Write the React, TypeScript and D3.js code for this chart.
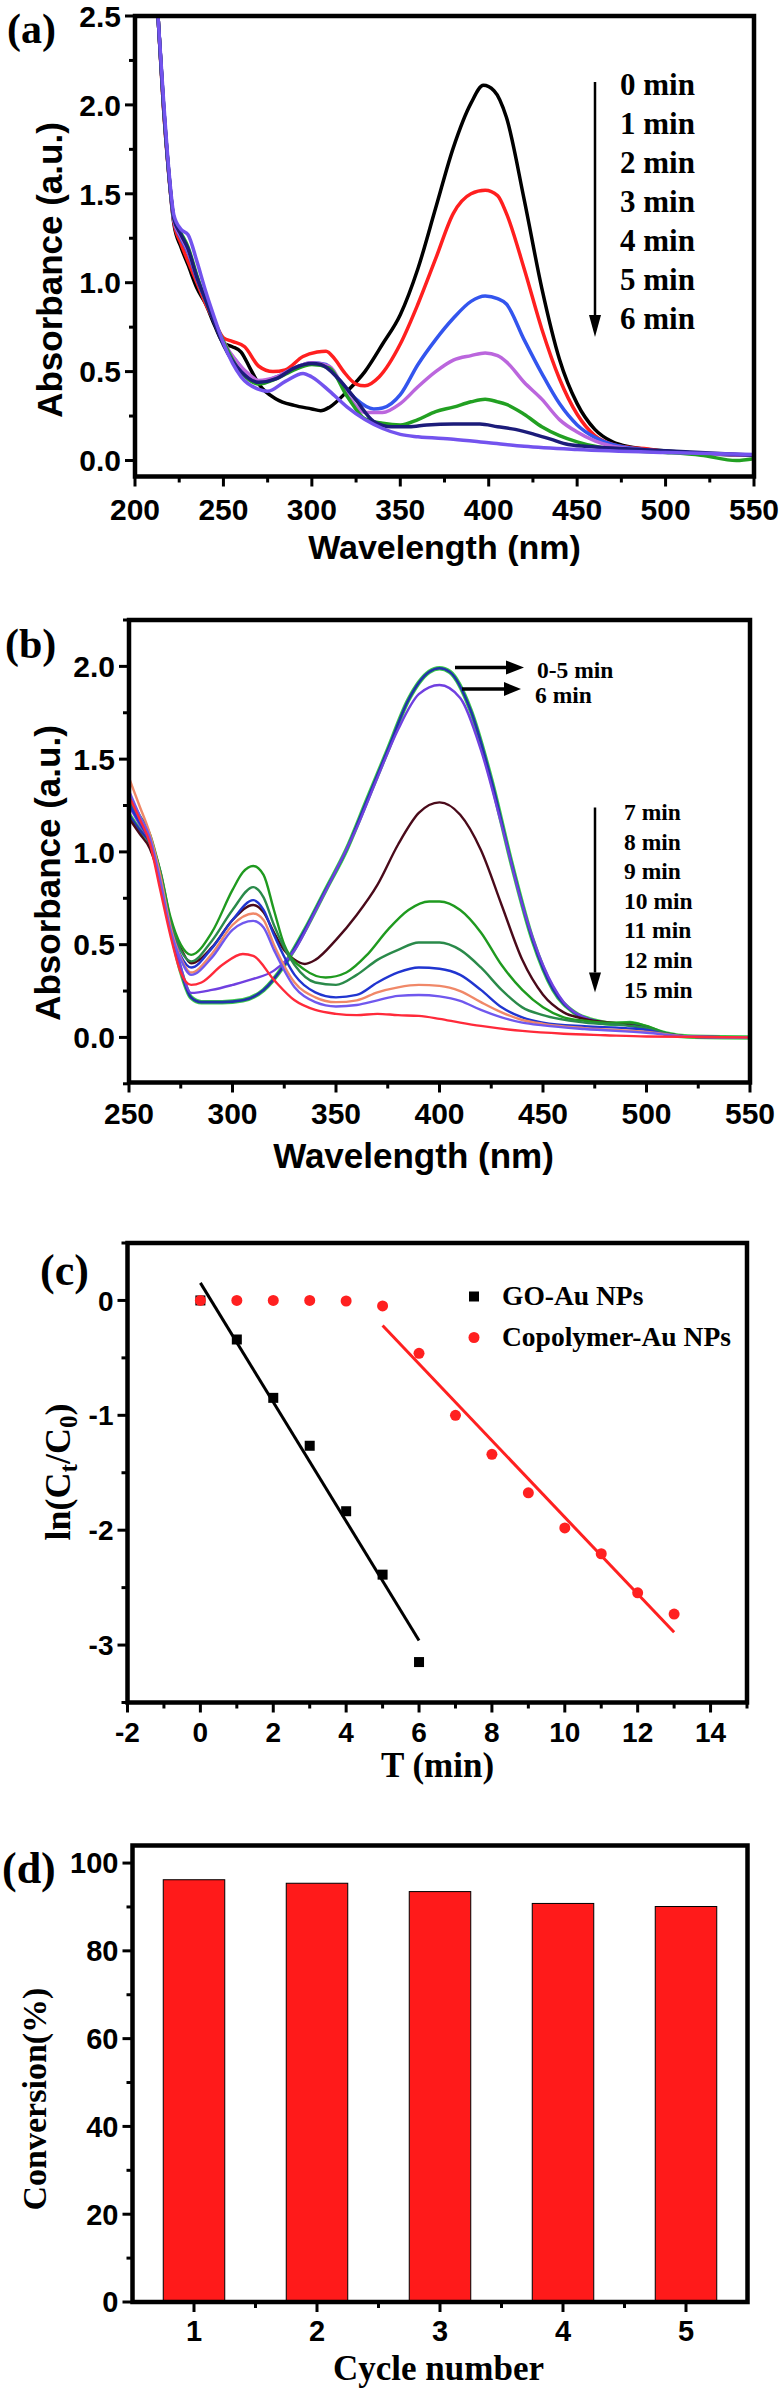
import React from 'react';
import * as d3 from 'd3';

type P = [number, number];

const SANS = "'Liberation Sans', Arial, Helvetica, sans-serif";
const SERIF = "'Liberation Serif', 'Times New Roman', Times, serif";

// ---------- panel (a): UV-vis spectra, 0-6 min ----------
const aLabels = ['0 min', '1 min', '2 min', '3 min', '4 min', '5 min', '6 min'];
const aColors = ['#000000', '#ff1f1f', '#3355ee', '#bb66dd', '#22a022', '#1c1c7a', '#7353ee'];
const a0: P[] = [[213,2.5],[216,2.0],[219,1.62],[222,1.33],[226,1.2],[230,1.1],[235,0.97],[240,0.88],[245,0.76],[250,0.66],[255,0.64],[260,0.61],[265,0.52],[270,0.43],[280,0.345],[290,0.31],[300,0.29],[305,0.28],[310,0.3],[320,0.39],[330,0.5],[340,0.655],[350,0.82],[360,1.08],[370,1.42],[380,1.76],[390,2.01],[397,2.11],[403,2.08],[410,1.93],[420,1.47],[430,0.97],[440,0.57],[450,0.32],[460,0.175],[470,0.105],[480,0.076],[490,0.062],[500,0.054],[520,0.04],[550,0.028]];
const a1: P[] = [[213,2.5],[216,2.0],[219,1.62],[222,1.34],[226,1.22],[230,1.12],[235,1.0],[240,0.88],[245,0.78],[250,0.69],[255,0.67],[262,0.64],[270,0.53],[278,0.5],[285,0.51],[295,0.585],[303,0.61],[308,0.615],[313,0.57],[318,0.5],[325,0.43],[330,0.42],[338,0.47],[350,0.655],[360,0.88],[370,1.135],[380,1.39],[390,1.5],[398,1.52],[405,1.49],[410,1.39],[420,1.08],[430,0.74],[440,0.46],[450,0.26],[460,0.14],[470,0.09],[480,0.073],[490,0.065],[500,0.05],[520,0.04],[550,0.03]];
const a2: P[] = [[213,2.5],[216,2.02],[219,1.63],[222,1.35],[226,1.25],[230,1.17],[235,1.02],[240,0.9],[245,0.78],[250,0.66],[258,0.55],[265,0.47],[270,0.44],[280,0.47],[290,0.52],[300,0.55],[308,0.54],[315,0.46],[325,0.345],[335,0.29],[340,0.295],[350,0.37],[360,0.54],[370,0.68],[380,0.8],[390,0.895],[398,0.925],[405,0.91],[410,0.88],[420,0.68],[430,0.49],[440,0.32],[450,0.2],[460,0.13],[470,0.09],[500,0.05],[550,0.03]];
const a3: P[] = [[213,2.5],[216,2.02],[219,1.63],[222,1.35],[226,1.26],[230,1.18],[235,1.03],[240,0.9],[245,0.78],[250,0.67],[258,0.55],[265,0.48],[270,0.45],[280,0.47],[290,0.52],[300,0.55],[310,0.53],[320,0.37],[330,0.27],[340,0.27],[350,0.32],[360,0.415],[370,0.5],[380,0.565],[390,0.59],[398,0.605],[405,0.59],[410,0.555],[420,0.44],[430,0.345],[440,0.23],[450,0.16],[460,0.11],[470,0.08],[500,0.05],[550,0.03]];
const a4: P[] = [[213,2.5],[216,2.02],[219,1.63],[222,1.36],[226,1.28],[230,1.2],[235,1.04],[240,0.9],[245,0.78],[250,0.67],[258,0.52],[265,0.45],[270,0.43],[280,0.46],[290,0.51],[300,0.54],[310,0.52],[320,0.36],[330,0.235],[340,0.21],[350,0.2],[360,0.23],[370,0.275],[380,0.3],[390,0.33],[398,0.345],[405,0.33],[410,0.315],[420,0.26],[430,0.19],[440,0.14],[450,0.105],[460,0.08],[480,0.055],[500,0.045],[520,0.03],[540,0.0],[550,0.01]];
const a5: P[] = [[213,2.5],[216,2.02],[219,1.63],[222,1.36],[226,1.27],[230,1.19],[235,1.03],[240,0.9],[245,0.77],[250,0.65],[260,0.5],[270,0.44],[280,0.46],[290,0.52],[300,0.545],[305,0.54],[315,0.46],[325,0.34],[335,0.22],[345,0.19],[355,0.19],[365,0.2],[380,0.205],[395,0.205],[405,0.19],[415,0.175],[425,0.15],[435,0.12],[445,0.09],[460,0.076],[480,0.065],[500,0.055],[550,0.03]];
const a6: P[] = [[213,2.5],[216,2.05],[219,1.65],[222,1.38],[226,1.3],[230,1.27],[235,1.12],[240,0.95],[245,0.8],[250,0.66],[260,0.47],[270,0.4],[275,0.39],[285,0.445],[295,0.49],[300,0.47],[310,0.39],[320,0.3],[330,0.23],[340,0.18],[350,0.147],[360,0.133],[380,0.12],[400,0.1],[420,0.08],[450,0.062],[500,0.045],[550,0.034]];
const aCurves = [a0, a1, a2, a3, a4, a5, a6];

// ---------- panel (b): UV-vis spectra, 0-15 min ----------
const bLabelsTop = ['0-5 min', '6 min'];
const bLabelsDown = ['7 min', '8 min', '9 min', '10 min', '11 min', '12 min', '15 min'];
const b05: P[] = [[250,1.2],[255,1.12],[260,1.05],[265,0.88],[270,0.6],[275,0.36],[280,0.215],[285,0.19],[295,0.19],[305,0.2],[315,0.255],[325,0.39],[335,0.58],[345,0.795],[355,1.01],[365,1.28],[375,1.55],[385,1.82],[395,1.97],[400,1.99],[405,1.97],[415,1.765],[425,1.39],[435,0.93],[445,0.525],[455,0.256],[465,0.135],[475,0.09],[485,0.073],[492,0.078],[500,0.054],[510,0.02],[520,0.005],[550,0.0]];
const b6: P[] = [[250,1.25],[255,1.15],[260,1.06],[265,0.9],[270,0.62],[275,0.38],[280,0.24],[290,0.256],[300,0.283],[310,0.315],[320,0.36],[330,0.47],[340,0.68],[350,0.9],[360,1.13],[370,1.4],[380,1.66],[390,1.85],[400,1.9],[410,1.83],[420,1.55],[430,1.145],[440,0.714],[450,0.39],[460,0.19],[470,0.108],[480,0.08],[490,0.067],[500,0.048],[510,0.02],[520,0.005],[550,0.0]];
const b7: P[] = [[250,1.18],[255,1.1],[260,1.02],[265,0.85],[270,0.6],[275,0.48],[280,0.4],[290,0.485],[300,0.633],[310,0.714],[315,0.674],[320,0.566],[325,0.47],[330,0.418],[335,0.396],[340,0.418],[350,0.526],[360,0.66],[370,0.822],[380,1.04],[390,1.21],[400,1.267],[410,1.2],[420,1.01],[430,0.714],[440,0.418],[450,0.23],[460,0.135],[470,0.1],[490,0.07],[500,0.05],[510,0.02],[520,0.005],[550,0.0]];
const b8: P[] = [[250,1.3],[255,1.2],[260,1.1],[265,0.9],[270,0.65],[275,0.5],[280,0.445],[290,0.566],[300,0.795],[305,0.89],[310,0.924],[315,0.876],[320,0.687],[325,0.5],[335,0.364],[345,0.323],[355,0.35],[365,0.445],[375,0.58],[385,0.687],[395,0.733],[400,0.733],[410,0.687],[420,0.566],[430,0.39],[440,0.256],[450,0.162],[460,0.108],[470,0.09],[480,0.08],[492,0.08],[500,0.062],[510,0.02],[520,0.005],[550,0.0]];
const b9: P[] = [[250,1.28],[255,1.18],[260,1.08],[265,0.88],[270,0.62],[275,0.47],[280,0.41],[290,0.52],[300,0.687],[310,0.81],[315,0.755],[320,0.606],[330,0.39],[340,0.296],[350,0.283],[360,0.337],[370,0.418],[380,0.472],[390,0.512],[400,0.512],[410,0.472],[420,0.377],[430,0.256],[440,0.162],[450,0.12],[470,0.08],[490,0.065],[500,0.05],[510,0.02],[520,0.005],[550,0.0]];
const b10: P[] = [[250,1.26],[255,1.16],[260,1.06],[265,0.86],[270,0.6],[275,0.44],[280,0.377],[290,0.48],[300,0.633],[310,0.74],[315,0.687],[320,0.553],[330,0.337],[340,0.243],[350,0.216],[360,0.229],[370,0.296],[380,0.35],[390,0.377],[400,0.37],[410,0.337],[420,0.256],[430,0.162],[440,0.108],[450,0.08],[470,0.06],[490,0.05],[500,0.04],[510,0.015],[520,0.005],[550,0.0]];
const b11: P[] = [[250,1.4],[255,1.25],[260,1.1],[265,0.88],[270,0.6],[275,0.43],[280,0.35],[290,0.45],[300,0.606],[310,0.668],[315,0.633],[320,0.5],[330,0.296],[340,0.216],[350,0.19],[360,0.2],[370,0.243],[380,0.27],[390,0.283],[400,0.278],[410,0.25],[420,0.19],[430,0.135],[440,0.094],[450,0.073],[470,0.05],[500,0.03],[520,0.005],[550,0.0]];
const b12: P[] = [[250,1.33],[255,1.2],[260,1.08],[265,0.85],[270,0.58],[275,0.42],[280,0.337],[290,0.43],[300,0.58],[310,0.628],[315,0.593],[320,0.472],[330,0.27],[340,0.19],[350,0.167],[360,0.175],[370,0.2],[380,0.224],[390,0.229],[400,0.221],[410,0.197],[420,0.148],[430,0.108],[440,0.08],[450,0.065],[470,0.045],[500,0.025],[520,0.005],[550,0.0]];
const b15: P[] = [[250,1.3],[255,1.18],[260,1.05],[265,0.8],[270,0.55],[275,0.35],[280,0.283],[285,0.296],[295,0.39],[305,0.45],[310,0.44],[320,0.31],[330,0.2],[340,0.148],[350,0.127],[360,0.12],[370,0.127],[380,0.12],[390,0.116],[400,0.1],[410,0.08],[420,0.062],[440,0.035],[460,0.02],[480,0.012],[500,0.005],[550,0.0]];
const bCurves = [b6, b7, b8, b9, b10, b11, b12, b15];
const bColors = ['#7040e0', '#4a0a1a', '#1f9a1f', '#2a8a4a', '#2035d0', '#f08868', '#7058ee', '#ff2a3a'];

// ---------- panel (c): kinetics ----------
const cTimeGO = [0, 1, 2, 3, 4, 5, 6];
const cGO = [0, -0.34, -0.848, -1.265, -1.835, -2.387, -3.148];
const cTimeCo = [0, 1, 2, 3, 4, 5, 6, 7, 8, 9, 10, 11, 12, 13];
const cCo = [0, 0, 0, 0, -0.005, -0.048, -0.46, -1.0, -1.34, -1.675, -1.98, -2.205, -2.545, -2.73];
const cLegend = ['GO-Au NPs', 'Copolymer-Au NPs'];

// ---------- panel (d): recycling ----------
const dCycles = ['1', '2', '3', '4', '5'];
const dConversion = [96.2, 95.4, 93.5, 90.8, 90.1];

type Box = { l: number; r: number; t: number; b: number };

function fit(xs: number[], ys: number[]) {
  const mx = d3.mean(xs)!, my = d3.mean(ys)!;
  const sxy = d3.sum(xs, (x, i) => (x - mx) * (ys[i] - my));
  const sxx = d3.sum(xs, x => (x - mx) ** 2);
  const k = sxy / sxx;
  return { k, b: my - k * mx };
}

function Frame({ box, xt, xm, yt, ym, fs, xOff }: {
  box: Box; xt: { p: number; s: string }[]; xm: number[]; yt: { p: number; s: string }[]; ym: number[]; fs: number; xOff: number;
}) {
  return (
    <g>
      {yt.map(t => <line key={'y' + t.s} x1={box.l - 10} x2={box.l} y1={t.p} y2={t.p} stroke="#000" strokeWidth={3} />)}
      {ym.map(p => <line key={'ym' + p} x1={box.l - 6} x2={box.l} y1={p} y2={p} stroke="#000" strokeWidth={3} />)}
      {xt.map(t => <line key={'x' + t.s} x1={t.p} x2={t.p} y1={box.b} y2={box.b + 10} stroke="#000" strokeWidth={3} />)}
      {xm.map(p => <line key={'xm' + p} x1={p} x2={p} y1={box.b} y2={box.b + 6} stroke="#000" strokeWidth={3} />)}
      <rect x={box.l} y={box.t} width={box.r - box.l} height={box.b - box.t} fill="none" stroke="#000" strokeWidth={4.5} />
      {yt.map(t => (
        <text key={'yl' + t.s} x={box.l - 14} y={t.p} dy="0.36em" textAnchor="end" fontFamily={SANS} fontWeight="bold" fontSize={fs}>{t.s}</text>
      ))}
      {xt.map(t => (
        <text key={'xl' + t.s} x={t.p} y={box.b + xOff} textAnchor="middle" fontFamily={SANS} fontWeight="bold" fontSize={fs}>{t.s}</text>
      ))}
    </g>
  );
}

function Arrow({ x1, y1, x2, y2, w, head, hw }: { x1: number; y1: number; x2: number; y2: number; w: number; head: number; hw: number }) {
  const a = Math.atan2(y2 - y1, x2 - x1);
  const bx = x2 - head * Math.cos(a), by = y2 - head * Math.sin(a);
  const nx = -Math.sin(a) * hw, ny = Math.cos(a) * hw;
  return (
    <g>
      <line x1={x1} y1={y1} x2={bx} y2={by} stroke="#000" strokeWidth={w} />
      <polygon points={`${x2},${y2} ${bx + nx},${by + ny} ${bx - nx},${by - ny}`} fill="#000" />
    </g>
  );
}

function PanelA() {
  const box: Box = { l: 135, r: 754, t: 16, b: 476.5 };
  const x = d3.scaleLinear().domain([200, 550]).range([box.l, box.r]);
  const y = d3.scaleLinear().domain([-0.09, 2.5]).range([box.b, box.t]);
  const line = d3.line<P>().x(d => x(d[0])).y(d => y(d[1])).curve(d3.curveMonotoneX);
  const xt = d3.range(200, 551, 50).map(v => ({ p: x(v), s: String(v) }));
  const xm = d3.range(225, 550, 50).map(v => x(v));
  const yt = d3.range(0, 2.51, 0.5).map(v => ({ p: y(v), s: v.toFixed(1) }));
  const ym = d3.range(0.25, 2.5, 0.5).map(v => y(v));
  return (
    <g>
      <clipPath id="clipA"><rect x={box.l} y={box.t} width={box.r - box.l} height={box.b - box.t} /></clipPath>
      <g clipPath="url(#clipA)">
        {aCurves.map((c, i) => <path key={i} d={line(c)!} fill="none" stroke={aColors[i]} strokeWidth={3.5} strokeLinejoin="round" />)}
      </g>
      <Frame box={box} xt={xt} xm={xm} yt={yt} ym={ym} fs={30} xOff={43} />
      <text x={(box.l + box.r) / 2} y={559} textAnchor="middle" fontFamily={SANS} fontWeight="bold" fontSize={34}>Wavelength (nm)</text>
      <text transform="translate(62,270) rotate(-90)" textAnchor="middle" fontFamily={SANS} fontWeight="bold" fontSize={35}>Absorbance (a.u.)</text>
      <text x={7} y={43} fontFamily={SERIF} fontWeight="bold" fontSize={42}>(a)</text>
      <Arrow x1={595} y1={82} x2={595} y2={337} w={2.5} head={22} hw={6} />
      {aLabels.map((s, i) => (
        <text key={s} x={620} y={95 + i * 39} fontFamily={SERIF} fontWeight="bold" fontSize={31}>{s}</text>
      ))}
    </g>
  );
}

function PanelB() {
  const box: Box = { l: 129, r: 750, t: 620, b: 1082.5 };
  const x = d3.scaleLinear().domain([250, 550]).range([box.l, box.r]);
  const y = d3.scaleLinear().domain([-0.243, 2.25]).range([box.b, box.t]);
  const line = d3.line<P>().x(d => x(d[0])).y(d => y(d[1])).curve(d3.curveMonotoneX);
  const xt = d3.range(250, 551, 50).map(v => ({ p: x(v), s: String(v) }));
  const xm = d3.range(275, 550, 50).map(v => x(v));
  const yt = d3.range(0, 2.01, 0.5).map(v => ({ p: y(v), s: v.toFixed(1) }));
  const ym = [-0.25, 0.25, 0.75, 1.25, 1.75, 2.25].map(v => y(v));
  return (
    <g>
      <clipPath id="clipB"><rect x={box.l} y={box.t} width={box.r - box.l} height={box.b - box.t} /></clipPath>
      <g clipPath="url(#clipB)">
        <path d={line(b05)!} fill="none" stroke="#3ccc4a" strokeWidth={4.5} />
        <path d={line(b05)!} fill="none" stroke="#2233aa" strokeWidth={2.6} />
        {bCurves.map((c, i) => <path key={i} d={line(c)!} fill="none" stroke={bColors[i]} strokeWidth={2.4} strokeLinejoin="round" />)}
      </g>
      <Frame box={box} xt={xt} xm={xm} yt={yt} ym={ym} fs={30} xOff={41} />
      <text x={413.5} y={1168} textAnchor="middle" fontFamily={SANS} fontWeight="bold" fontSize={35}>Wavelength (nm)</text>
      <text transform="translate(60,873) rotate(-90)" textAnchor="middle" fontFamily={SANS} fontWeight="bold" fontSize={35}>Absorbance (a.u.)</text>
      <text x={5} y={658} fontFamily={SERIF} fontWeight="bold" fontSize={42}>(b)</text>
      <Arrow x1={455} y1={667.5} x2={524} y2={667.5} w={3.5} head={18} hw={7} />
      <Arrow x1={462} y1={689} x2={521} y2={689} w={3.5} head={17} hw={7} />
      <text x={537} y={677.5} fontFamily={SERIF} fontWeight="bold" fontSize={23.5}>{bLabelsTop[0]}</text>
      <text x={535} y={702.5} fontFamily={SERIF} fontWeight="bold" fontSize={23.5}>{bLabelsTop[1]}</text>
      <Arrow x1={595} y1={807.5} x2={595} y2={992.5} w={2.5} head={20} hw={6} />
      {bLabelsDown.map((s, i) => (
        <text key={s} x={624} y={820 + i * 29.6} fontFamily={SERIF} fontWeight="bold" fontSize={23.5}>{s}</text>
      ))}
    </g>
  );
}

function PanelC() {
  const box: Box = { l: 127.5, r: 747, t: 1243, b: 1702.5 };
  const x = d3.scaleLinear().domain([-2, 15]).range([box.l, box.r]);
  const y = d3.scaleLinear().domain([-3.5, 0.5]).range([box.b, box.t]);
  const xt = d3.range(-2, 15, 2).map(v => ({ p: x(v), s: String(v) }));
  const xm = d3.range(-1, 16, 2).map(v => x(v));
  const yt = [-3, -2, -1, 0].map(v => ({ p: y(v), s: String(v) }));
  const ym = [-3.5, -2.5, -1.5, -0.5, 0.5].map(v => y(v));
  const fGO = fit(cTimeGO, cGO);
  const coT = cTimeCo.slice(5), coY = cCo.slice(5);
  const fCo = fit(coT, coY);
  return (
    <g>
      <line x1={x(0)} y1={y(fGO.b)} x2={x(6)} y2={y(fGO.k * 6 + fGO.b)} stroke="#000" strokeWidth={3} />
      <line x1={x(5)} y1={y(fCo.k * 5 + fCo.b)} x2={x(13)} y2={y(fCo.k * 13 + fCo.b)} stroke="#ff2020" strokeWidth={3} />
      {cTimeGO.map((t, i) => <rect key={'s' + t} x={x(t) - 5} y={y(cGO[i]) - 5} width={10} height={10} fill="#000" />)}
      {cTimeCo.map((t, i) => <circle key={'c' + t} cx={x(t)} cy={y(cCo[i])} r={5.5} fill="#ff2020" />)}
      <Frame box={box} xt={xt} xm={xm} yt={yt} ym={ym} fs={28} xOff={39} />
      <text x={437.5} y={1777} textAnchor="middle" fontFamily={SERIF} fontWeight="bold" fontSize={35}>T (min)</text>
      <text transform="translate(70,1472) rotate(-90)" textAnchor="middle" fontFamily={SERIF} fontWeight="bold" fontSize={36}>
        ln(C<tspan fontSize={25} dy={7}>t</tspan><tspan dy={-7}>/C</tspan><tspan fontSize={25} dy={7}>0</tspan><tspan dy={-7}>)</tspan>
      </text>
      <text x={40} y={1285} fontFamily={SERIF} fontWeight="bold" fontSize={44}>(c)</text>
      <rect x={469} y={1291.5} width={10} height={10} fill="#000" />
      <circle cx={474} cy={1337.5} r={5.5} fill="#ff2020" />
      <text x={502} y={1305} fontFamily={SERIF} fontWeight="bold" fontSize={27.5}>{cLegend[0]}</text>
      <text x={502} y={1346} fontFamily={SERIF} fontWeight="bold" fontSize={27.5}>{cLegend[1]}</text>
    </g>
  );
}

function PanelD() {
  const box: Box = { l: 132.5, r: 747.5, t: 1845.5, b: 2302 };
  const x = d3.scaleBand<string>().domain(dCycles).range([box.l, box.r]).paddingInner(0.5).paddingOuter(0.25);
  const step = x.step();
  const y = d3.scaleLinear().domain([0, 104]).range([box.b, box.t]);
  const xt = dCycles.map(c => ({ p: x(c)! + x.bandwidth() / 2, s: c }));
  const xm = dCycles.slice(1).map(c => x(c)! + x.bandwidth() / 2 - step / 2);
  const yt = d3.range(0, 101, 20).map(v => ({ p: y(v), s: String(v) }));
  const ym = d3.range(10, 101, 20).map(v => y(v));
  return (
    <g>
      {dCycles.map((c, i) => (
        <rect key={c} x={x(c)!} y={y(dConversion[i])} width={x.bandwidth()} height={y(0) - y(dConversion[i])} fill="#ff1a1a" stroke="#000" strokeWidth={1} />
      ))}
      <Frame box={box} xt={xt} xm={xm} yt={yt} ym={ym} fs={29} xOff={39} />
      <text x={438.5} y={2380} textAnchor="middle" fontFamily={SERIF} fontWeight="bold" fontSize={35}>Cycle number</text>
      <text transform="translate(46,2099) rotate(-90)" textAnchor="middle" fontFamily={SERIF} fontWeight="bold" fontSize={34}>Conversion(%)</text>
      <text x={2} y={1883} fontFamily={SERIF} fontWeight="bold" fontSize={44}>(d)</text>
    </g>
  );
}

export default function App() {
  return (
    <svg width={781} height={2389} style={{ position: 'absolute', left: 0, top: 0, background: '#fff' }}>
      <rect width={781} height={2389} fill="#fff" />
      <PanelA />
      <PanelB />
      <PanelC />
      <PanelD />
    </svg>
  );
}
